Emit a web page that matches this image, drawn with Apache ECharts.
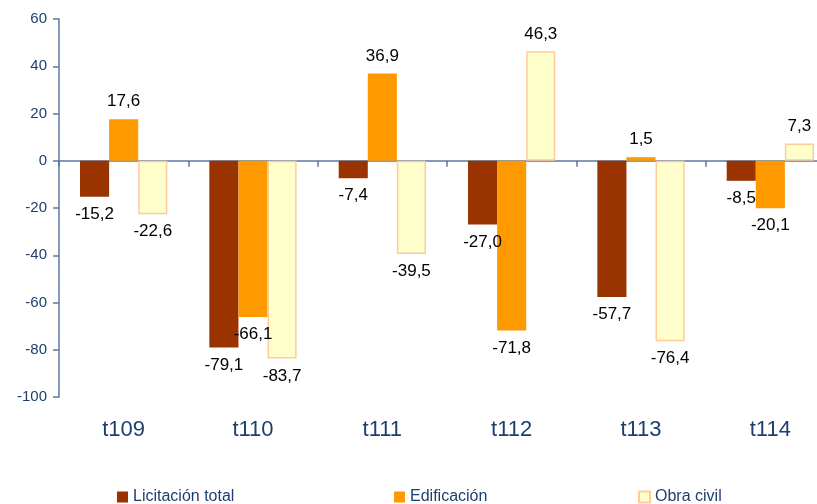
<!DOCTYPE html>
<html>
<head>
<meta charset="utf-8">
<script src="https://cdn.jsdelivr.net/npm/echarts@6/dist/echarts.min.js"></script>
<style>
  html, body { margin: 0; padding: 0; background: #fff; overflow: hidden; }
  /* el gráfico original está recortado por la derecha */
  #chart { width: 835px; height: 504px; }
</style>
</head>
<body>
<div id="chart"></div>
<script>
var categories = ["t109", "t110", "t111", "t112", "t113", "t114"];
var seriesNames = ["Licitación total", "Edificación", "Obra civil"];
var licitacion = [-15.2, -79.1, -7.4, -27.0, -57.7, -8.5];
var edificacion = [17.6, -66.1, 36.9, -71.8, 1.5, -20.1];
var obraCivil = [-22.6, -83.7, -39.5, 46.3, -76.4, 7.3];
var yTicks = [60, 40, 20, 0, -20, -40, -60, -80, -100];

var axisColor = "#5a7aa0";
var textBlue = "#1e3f6e";
var font = "Liberation Sans, Arial, sans-serif";

// positivos arriba, negativos abajo
function withLabels(values) {
  return values.map(function (v) {
    return {
      value: v,
      label: { position: v >= 0 ? "top" : "bottom", distance: 9 }
    };
  });
}

function fmt(p) {
  return p.value.toFixed(1).replace(".", ",");
}

var barLabel = {
  show: true,
  formatter: fmt,
  color: "#000",
  fontSize: 17,
  fontFamily: font
};

var legendText = { color: textBlue, fontSize: 16, fontFamily: font };

var chart = echarts.init(document.getElementById("chart"));
chart.setOption({
  animation: false,
  grid: { left: 59, top: 19, right: 0, bottom: 107 },
  legend: [
    { data: [seriesNames[0]], left: 112, top: 484, icon: "rect", itemWidth: 11, itemHeight: 11, itemGap: 4, textStyle: legendText },
    { data: [seriesNames[1]], left: 389, top: 484, icon: "rect", itemWidth: 11, itemHeight: 11, textStyle: legendText },
    { data: [seriesNames[2]], left: 633, top: 484, icon: "rect", itemWidth: 11, itemHeight: 11, textStyle: legendText }
  ],
  xAxis: [
    {
      type: "category",
      data: categories,
      axisLine: { onZero: true, lineStyle: { color: axisColor, width: 1.5 } },
      axisTick: { show: true, length: 6, lineStyle: { color: axisColor, width: 1.5 } },
      axisLabel: { show: false }
    },
    {
      type: "category",
      data: categories,
      position: "bottom",
      axisLine: { show: false },
      axisTick: { show: false },
      axisLabel: { margin: 22, color: textBlue, fontSize: 22, fontFamily: font }
    }
  ],
  yAxis: {
    type: "value",
    min: yTicks[yTicks.length - 1],
    max: yTicks[0],
    interval: 20,
    axisLine: { show: true, lineStyle: { color: axisColor, width: 1.5 } },
    axisTick: { show: true, length: 6, lineStyle: { color: axisColor, width: 1.5 } },
    splitLine: { show: false },
    axisLabel: { margin: 12, color: textBlue, fontSize: 15, fontFamily: font }
  },
  series: [
    {
      name: seriesNames[0],
      type: "bar",
      data: withLabels(licitacion),
      barGap: "0%",
      barCategoryGap: "32.5%",
      itemStyle: { color: "#993300" },
      label: barLabel
    },
    {
      name: seriesNames[1],
      type: "bar",
      data: withLabels(edificacion),
      itemStyle: { color: "#ff9900" },
      label: barLabel
    },
    {
      name: seriesNames[2],
      type: "bar",
      data: withLabels(obraCivil),
      itemStyle: { color: "#ffffcc", borderColor: "#ffcc99", borderWidth: 1.5 },
      label: barLabel
    }
  ]
});
</script>
</body>
</html>
